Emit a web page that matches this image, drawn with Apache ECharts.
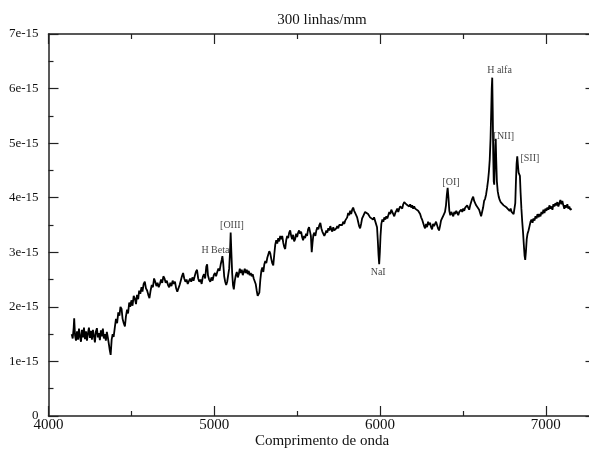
<!DOCTYPE html>
<html><head><meta charset="utf-8">
<script src="https://cdn.jsdelivr.net/npm/echarts@6/dist/echarts.min.js"></script>
<style>html,body{margin:0;padding:0;background:#fff}#c{width:589px;height:450px}</style>
</head><body><div id="c"></div>
<script>
// wavelength (Å) and flux (units of 1e-15)
const wavelength = [4140,4146,4152,4155,4160,4166,4172,4178,4184,4190,4196,4202,4208,4214,4220,4226,4232,4238,4244,4250,4256,4262,4268,4274,4280,4286,4292,4298,4304,4310,4316,4322,4328,4334,4340,4346,4352,4358,4364,4370,4375,4381,4387,4393,4400,
4407,4414,4421,4428,4434,4441,4447,4454,4461,4467,4474,4480,4487,4493,4500,4507,4514,4521,4528,4534,4541,4547,4554,4561,4567,4574,4581,4588,4595,4602,4609,4616,4623,4630,4637,4644,4651,4658,4665,4672,4679,4686,4693,4700,4707,4714,4721,4728,4735,4742,4749,4756,4763,4770,4777,4784,4791,4798,4805,4812,4819,4826,4833,4840,4847,4854,4861,4868,4875,4882,4889,4896,4903,4910,4917,4924,4931,4938,4945,4952,4957,4962,4969,4976,4983,4990,4997,5004,5011,5018,5025,5032,5039,5045,5049,5054,5060,5066,5072,5078,5084,5090,5095,5099,5103,5108,5113,5118,5124,5130,5136,5142,5148,5154,5160,5166,5172,5178,5184,5190,5196,5202,5208,5214,5220,5226,5232,5238,5244,5250,5256,5262,5267,5272,5278,5284,5290,5296,5302,5308,5314,5320,5326,5332,5338,5344,5350,5356,5362,5368,5374,5380,5386,5392,5398,5404,5410,5416,5422,5428,5434,5440,5446,5452,5458,5464,5470,5476,5482,5488,5494,5500,5506,5512,5518,5524,5530,5536,5542,5548,5554,5560,5566,5572,5578,5583,5588,5593,5598,5604,5610,5616,5622,5628,5634,5640,5646,5652,5658,5664,5670,5676,5682,5688,5694,5700,5706,5712,5718,5724,5730,5736,5742,5748,5754,5760,5766,5772,5778,5784,5790,5796,5802,5808,5814,5820,5826,5832,5838,5844,5850,5856,5862,5868,5874,5880,5886,5892,5898,5904,5910,5916,5922,5928,5934,5940,5946,5952,5958,5964,5970,5976,5982,5987,5991,5995,5999,6003,6008,6014,6020,6026,6032,6038,6044,6050,6056,6062,6068,6074,6080,6086,6092,6098,6104,6110,6116,6122,6128,6134,6140,6146,6152,6158,6164,6170,6176,6182,6188,6194,6200,6206,6212,6218,6224,6230,6236,6242,6248,6254,6260,6266,6272,6278,6284,6290,6296,6302,6308,6314,6320,6326,6332,6338,6344,6350,6356,6362,6368,6374,6380,6386,6392,6398,6403,6408,6413,6418,6424,6430,6436,6442,6448,6454,6460,6466,6472,6478,6484,6490,6496,6502,6508,6514,6520,6526,6532,6538,6544,6550,6556,6562,6568,6574,6580,6586,6592,6598,6604,6610,6616,6622,6628,6634,6640,6646,6652,6657,6662,6667,6671,6674,6677,6680,6683,6686,6689,6692,6695,6698,6701,6705,6710,6716,6722,6728,6734,6740,6746,6752,6758,6764,6770,6776,6782,6788,6794,6800,6806,6812,6816,6820,6824,6828,6832,6836,6840,6844,6848,6853,6858,6863,6868,6872,6876,6880,6885,6890,6896,6902,6908,6914,6920,6926,6932,6938,6944,6950,6956,6962,6968,6974,6980,6986,6992,6998,7004,7010,7016,7022,7028,7034,7040,7046,7052,7058,7064,7070,7076,7082,7088,7094,7100,7106,7112,7118,7124,7130,7136,7142,7148,7156];
const flux = [1.50,1.42,1.62,1.79,1.48,1.38,1.55,1.40,1.60,1.45,1.36,1.58,1.44,1.62,1.41,1.55,1.38,1.52,1.62,1.43,1.56,1.40,1.58,1.47,1.35,1.55,1.61,1.44,1.52,1.39,1.57,1.46,1.60,1.42,1.50,1.38,1.54,1.44,1.32,1.20,1.12,1.40,1.50,1.45,1.62,
1.78,1.70,1.90,1.84,2.00,1.96,1.78,1.70,1.64,1.82,1.95,1.88,2.08,2.00,2.12,2.02,2.20,2.15,2.05,2.22,2.14,2.30,2.24,2.36,2.28,2.42,2.46,2.34,2.30,2.22,2.16,2.30,2.40,2.36,2.52,2.46,2.38,2.44,2.36,2.42,2.50,2.44,2.56,2.52,2.44,2.48,2.40,2.36,2.44,2.38,2.48,2.42,2.46,2.34,2.28,2.26,2.40,2.48,2.56,2.62,2.52,2.46,2.50,2.42,2.40,2.52,2.46,2.54,2.48,2.56,2.64,2.68,2.52,2.46,2.50,2.42,2.55,2.60,2.52,2.74,2.78,2.58,2.50,2.46,2.54,2.48,2.58,2.62,2.56,2.64,2.70,2.66,2.78,2.86,2.93,2.80,2.56,2.46,2.40,2.46,2.58,2.70,3.00,3.36,3.02,2.62,2.40,2.32,2.48,2.58,2.64,2.54,2.60,2.70,2.62,2.68,2.58,2.64,2.70,2.62,2.68,2.60,2.66,2.58,2.62,2.56,2.60,2.52,2.54,2.42,2.30,2.20,2.18,2.26,2.50,2.66,2.72,2.64,2.78,2.84,2.80,2.90,2.96,3.02,2.98,2.88,2.80,2.76,2.96,3.14,3.22,3.16,3.26,3.20,3.30,3.24,3.30,3.18,3.10,3.06,3.22,3.30,3.26,3.36,3.40,3.30,3.24,3.32,3.20,3.24,3.34,3.28,3.36,3.40,3.34,3.38,3.28,3.22,3.30,3.26,3.34,3.30,3.42,3.46,3.48,3.30,3.00,3.18,3.32,3.36,3.30,3.40,3.46,3.42,3.50,3.54,3.44,3.38,3.40,3.30,3.34,3.40,3.36,3.44,3.40,3.48,3.42,3.38,3.46,3.40,3.38,3.44,3.48,3.44,3.50,3.48,3.52,3.50,3.56,3.52,3.58,3.56,3.64,3.72,3.68,3.76,3.70,3.78,3.82,3.76,3.72,3.70,3.64,3.56,3.48,3.44,3.52,3.62,3.66,3.70,3.74,3.72,3.76,3.70,3.68,3.64,3.66,3.62,3.60,3.64,3.58,3.56,3.46,3.20,2.95,2.78,3.00,3.30,3.52,3.60,3.56,3.64,3.60,3.66,3.62,3.68,3.74,3.70,3.78,3.74,3.70,3.66,3.72,3.76,3.80,3.74,3.80,3.84,3.86,3.80,3.88,3.92,3.94,3.88,3.90,3.86,3.84,3.88,3.82,3.86,3.80,3.84,3.80,3.78,3.82,3.76,3.74,3.70,3.64,3.60,3.54,3.48,3.44,3.52,3.46,3.56,3.50,3.54,3.46,3.42,3.52,3.48,3.46,3.56,3.50,3.44,3.40,3.48,3.58,3.62,3.66,3.70,3.74,3.86,4.05,4.18,4.00,3.76,3.68,3.74,3.70,3.66,3.74,3.70,3.76,3.72,3.68,3.74,3.72,3.78,3.74,3.80,3.76,3.82,3.80,3.86,3.82,3.78,3.86,3.92,3.98,4.02,3.94,3.90,3.86,3.84,3.86,3.78,3.72,3.66,3.68,3.82,3.94,3.98,4.06,4.18,4.32,4.48,4.70,5.10,5.60,6.00,6.20,5.60,4.80,4.30,4.24,4.56,4.96,5.08,4.70,4.30,4.12,4.02,3.96,3.92,3.90,3.94,3.86,3.84,3.88,3.82,3.80,3.84,3.76,3.80,3.74,3.76,3.70,3.72,3.90,4.30,4.62,4.76,4.60,4.46,4.48,4.40,4.10,3.80,3.56,3.36,3.12,2.94,2.86,3.00,3.24,3.34,3.40,3.48,3.56,3.60,3.54,3.62,3.58,3.66,3.62,3.70,3.64,3.70,3.66,3.74,3.70,3.78,3.72,3.80,3.76,3.82,3.78,3.86,3.80,3.84,3.78,3.88,3.84,3.90,3.86,3.92,3.84,3.90,3.96,3.88,3.94,3.86,3.80,3.86,3.82,3.88,3.80,3.84,3.78,3.80];
// line annotations: label text, wavelength, flux (1e-15)
const lineNames = ["H Beta","[OIII]","NaI","[OI]","H alfa","[NII]","[SII]"];
const lineX = [5007,5107,5989,6428,6721,6747,6904];
const lineY = [3.04,3.49,2.64,4.29,6.33,5.13,4.73];
const xTicks = [4000,5000,6000,7000];
const yTicks = [0,1,2,3,4,5,6,7];

const serif = '"Liberation Serif", "DejaVu Serif", serif';
const spectrum = wavelength.map((w,i)=>[w,flux[i]]);
const labels = lineNames.map((n,i)=>({value:[lineX[i],lineY[i]],name:n}));

const axisCommon = {
  axisLine:{show:true,onZero:false,lineStyle:{color:'#222',width:1.5}},
  axisTick:{show:true,inside:true,length:10,lineStyle:{color:'#222',width:1.2}},
  minorTick:{show:true,splitNumber:2,length:5,lineStyle:{color:'#222',width:1.2}},
  splitLine:{show:false}
};
const chart = echarts.init(document.getElementById('c'),null,{renderer:'canvas'});
chart.setOption({
  animation:false,
  backgroundColor:'#fff',
  grid:{left:48.5,top:34,width:547,height:382,containLabel:false,outerBoundsMode:'none'},
  graphic:[{type:'text',x:322,y:20,style:{text:'300 linhas/mm',align:'center',verticalAlign:'middle',font:'15px '+serif,fill:'#111'}}],
  xAxis:[
    Object.assign({type:'value',min:4000,max:7300,interval:1000,position:'bottom',
      name:'Comprimento de onda',nameLocation:'middle',nameGap:18,nameMoveOverlap:false,
      nameTextStyle:{fontFamily:serif,fontSize:15,color:'#111'},
      axisLabel:{margin:2,fontFamily:serif,fontSize:15,color:'#111',showMaxLabel:false,
        formatter:v=>xTicks.includes(v)?String(v):''}},axisCommon),
    Object.assign({type:'value',min:4000,max:7300,interval:1000,position:'top',
      axisLabel:{show:false}},axisCommon)
  ],
  yAxis:[
    Object.assign({type:'value',min:0,max:7,interval:1,position:'left',
      axisLabel:{margin:10,fontFamily:serif,fontSize:13,color:'#111',
        formatter:v=>yTicks.includes(v)?(v===0?'0':v+'e-15'):''}},axisCommon),
    Object.assign({type:'value',min:0,max:7,interval:1,position:'right',
      axisLabel:{show:false}},axisCommon)
  ],
  series:[
    {type:'line',data:spectrum,showSymbol:false,symbol:'none',
      lineStyle:{color:'#000',width:1.8},xAxisIndex:0,yAxisIndex:0,z:3},
    {type:'scatter',data:labels,symbolSize:0,xAxisIndex:0,yAxisIndex:0,
      label:{show:true,position:'inside',formatter:p=>p.name,fontFamily:serif,fontSize:10,color:'#111'},z:4}
  ]
});
</script></body></html>
